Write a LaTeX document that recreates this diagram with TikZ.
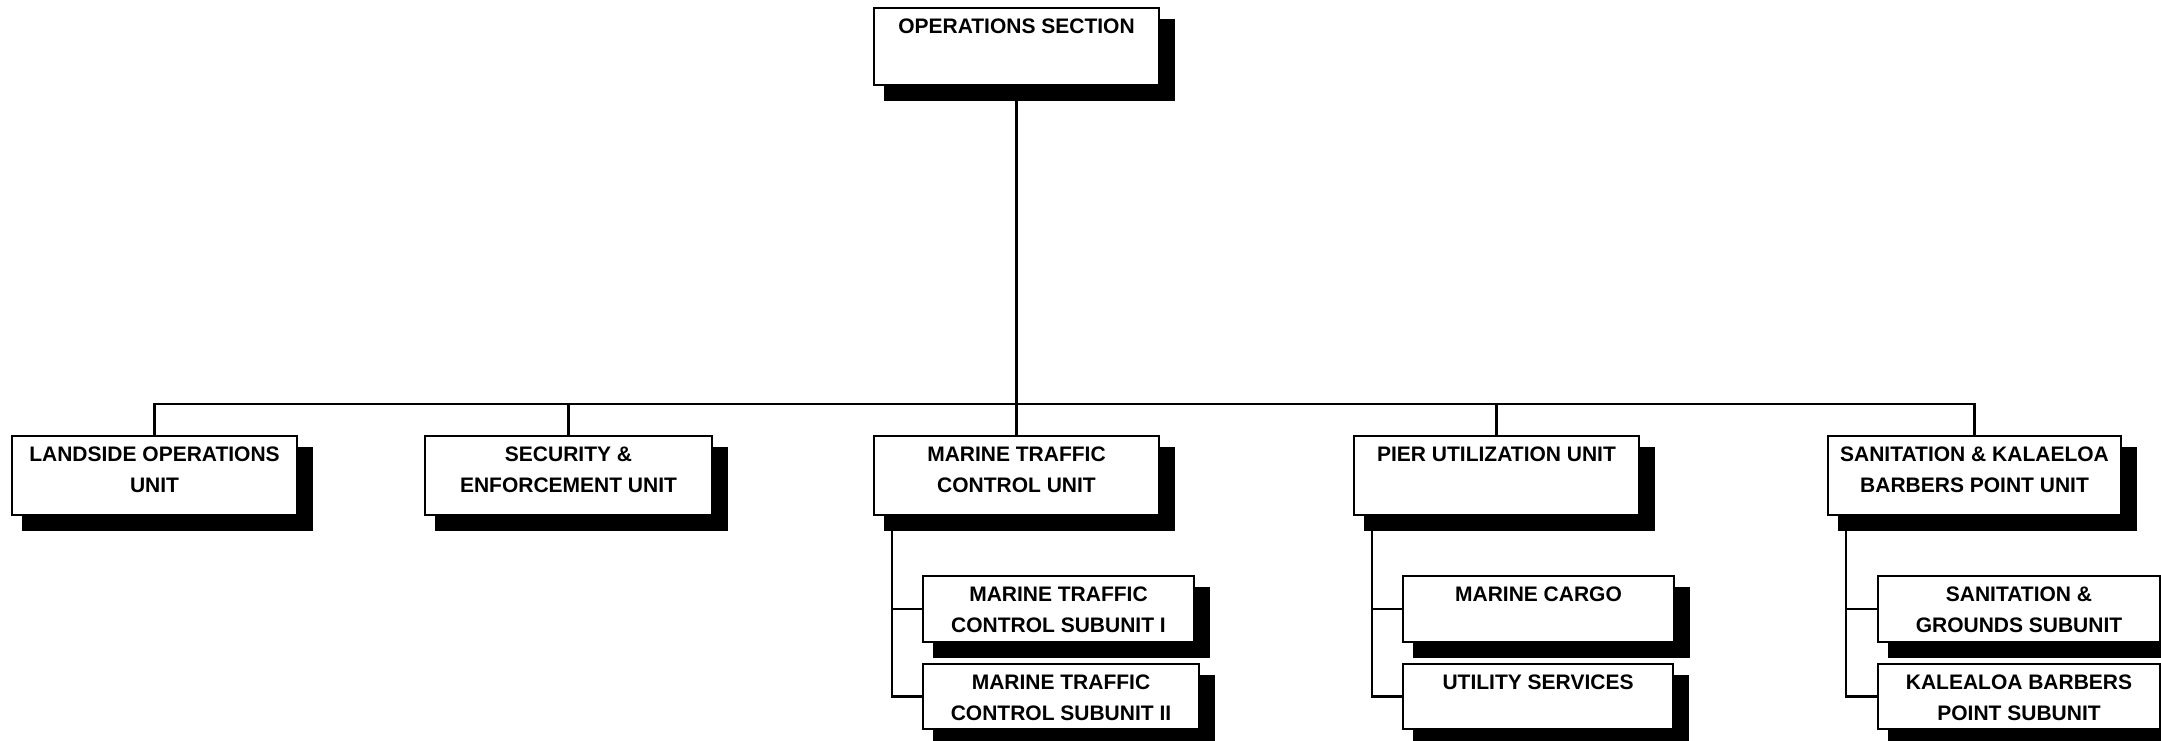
\documentclass[tikz,border=0pt]{standalone}
\usepackage{fontspec}
\setmainfont{Liberation Sans}
\usetikzlibrary{backgrounds}
\tikzset{
  orgbox/.style={draw=black, line width=2pt, fill=white, rectangle, inner sep=0pt, anchor=north west},
  lbl/.style={font=\bfseries\fontsize{21}{31}\selectfont, align=center, inner sep=0pt, anchor=north},
  conn/.style={draw=black, line width=2.2pt},
}
\newcommand{\orgshadow}[1]{\fill[black] ([shift={(11pt,-12pt)}]#1.north west) rectangle ([shift={(15pt,-15pt)}]#1.south east);}
\begin{document}
\begin{tikzpicture}[x=1pt,y=-1pt]
\useasboundingbox (0,0) rectangle (2161,741);
% boxes
\node[orgbox, minimum width=285pt, minimum height=77pt] (ops) at (873,7) {};
\node[orgbox, minimum width=285pt, minimum height=79pt] (land) at (11,435) {};
\node[orgbox, minimum width=287pt, minimum height=79pt] (sec) at (424,435) {};
\node[orgbox, minimum width=285pt, minimum height=79pt] (mtc) at (873,435) {};
\node[orgbox, minimum width=285pt, minimum height=79pt] (pier) at (1353,435) {};
\node[orgbox, minimum width=293pt, minimum height=79pt] (san) at (1827,435) {};
\node[orgbox, minimum width=271pt, minimum height=66pt] (mtc1) at (922,575) {};
\node[orgbox, minimum width=276pt, minimum height=65pt] (mtc2) at (922,663) {};
\node[orgbox, minimum width=271pt, minimum height=66pt] (cargo) at (1402,575) {};
\node[orgbox, minimum width=270pt, minimum height=65pt] (util) at (1402,663) {};
\node[orgbox, minimum width=282pt, minimum height=66pt] (sang) at (1877,575) {};
\node[orgbox, minimum width=282pt, minimum height=65pt] (kal) at (1877,663) {};
% shadows
\begin{scope}[on background layer]
\foreach \n in {ops,land,sec,mtc,pier,san,mtc1,mtc2,cargo,util,sang,kal} {\orgshadow{\n}}
\end{scope}
% labels
\node[lbl] (opsT) at ([yshift=-11.5pt]ops.north) {OPERATIONS SECTION};
\node[lbl] (landT) at ([yshift=-11.5pt]land.north) {LANDSIDE OPERATIONS\\UNIT};
\node[lbl] (secT) at ([yshift=-11.5pt]sec.north) {SECURITY \&\\ENFORCEMENT UNIT};
\node[lbl] (mtcT) at ([yshift=-11.5pt]mtc.north) {MARINE TRAFFIC\\CONTROL UNIT};
\node[lbl] (pierT) at ([yshift=-11.5pt]pier.north) {PIER UTILIZATION UNIT};
\node[lbl] (sanT) at ([yshift=-11.5pt]san.north) {SANITATION \& KALAELOA\\BARBERS POINT UNIT};
\node[lbl] (mtc1T) at ([yshift=-11.5pt]mtc1.north) {MARINE TRAFFIC\\CONTROL SUBUNIT I};
\node[lbl] (mtc2T) at ([yshift=-11.5pt]mtc2.north) {MARINE TRAFFIC\\CONTROL SUBUNIT II};
\node[lbl] (cargoT) at ([yshift=-11.5pt]cargo.north) {MARINE CARGO};
\node[lbl] (utilT) at ([yshift=-11.5pt]util.north) {UTILITY SERVICES};
\node[lbl] (sangT) at ([yshift=-11.5pt]sang.north) {SANITATION \&\\GROUNDS SUBUNIT};
\node[lbl] (kalT) at ([yshift=-11.5pt]kal.north) {KALEALOA BARBERS\\POINT SUBUNIT};
% connectors
\coordinate (j) at (1015.5,404);
\begin{scope}[on background layer]
\draw[conn] (ops.south) -- (mtc.north);
\end{scope}
\draw[conn] (land.north) |- (j) -| (san.north);
\draw[conn] (sec.north) -- (sec.north |- j);
\draw[conn] (pier.north) -- (pier.north |- j);
\coordinate (mtcb) at (892,515);
\coordinate (pierb) at (1372,515);
\coordinate (sanb) at (1846,515);
\begin{scope}[on background layer]
\draw[conn] (mtcb) |- (mtc2.west);
\draw[conn] (pierb) |- (util.west);
\draw[conn] (sanb) |- (kal.west);
\end{scope}
\draw[conn] (mtc1.west) -- (mtc1.west -| mtcb);
\draw[conn] (cargo.west) -- (cargo.west -| pierb);
\draw[conn] (sang.west) -- (sang.west -| sanb);
\end{tikzpicture}
\end{document}
